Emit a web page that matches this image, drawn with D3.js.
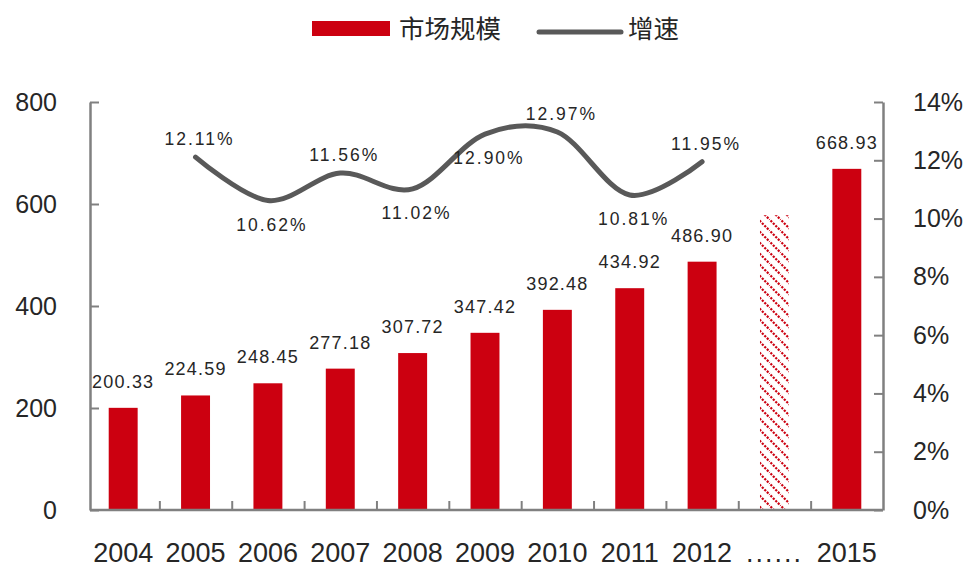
<!DOCTYPE html>
<html>
<head>
<meta charset="utf-8">
<script src="https://cdn.jsdelivr.net/npm/d3@7/dist/d3.min.js"></script>
<style>
  html, body { margin: 0; padding: 0; background: #fff; }
  svg { display: block; }
  text { font-family: "Liberation Sans", Arial, sans-serif; fill: #262626; }
  .cjk { font-family: "Noto Sans CJK SC", sans-serif; }
</style>
</head>
<body>
<svg id="chart" width="970" height="567"></svg>
<script>
// Market size (bars, left axis) and year-on-year growth (line, right axis)
const categories = ['2004', '2005', '2006', '2007', '2008', '2009', '2010', '2011', '2012', '......', '2015'];
const marketSize = [200.33, 224.59, 248.45, 277.18, 307.72, 347.42, 392.48, 434.92, 486.90, 578, 668.93];
const estimatedCategories = ['......'];
const growthRate = [null, 12.11, 10.62, 11.56, 11.02, 12.90, 12.97, 10.81, 11.95, null, null];
const growthLabelSide = [null, 'above', 'below', 'above', 'below', 'below', 'above', 'below', 'above', null, null];
const leftTicks = [0, 200, 400, 600, 800];
const rightTicks = [0, 2, 4, 6, 8, 10, 12, 14];
const seriesNames = ['市场规模', '增速'];

const RED = '#cc0010';
const LINE = '#595959';
const AXIS = '#808080';

const svg = d3.select('#chart');
const plot = { left: 90, right: 883, top: 102, bottom: 510 };
const bandStart = 87;

// Hatched fill for the estimated bar
const defs = svg.append('defs');
const pat = defs.append('pattern')
  .attr('id', 'hatch')
  .attr('patternUnits', 'userSpaceOnUse')
  .attr('width', 11).attr('height', 11);
pat.append('rect').attr('width', 11).attr('height', 11).attr('fill', '#fff');
pat.append('path')
  .attr('d', 'M-2,-2 L13,13 M-2,9 L2,13 M9,-2 L13,2')
  .attr('stroke', RED).attr('stroke-width', 2.2)
  .attr('stroke-dasharray', '2.2,1.3');

const x = d3.scaleBand()
  .domain(categories)
  .range([bandStart, plot.right])
  .paddingInner(0.6)
  .paddingOuter(0.3);

const xIndex = d3.scaleLinear()
  .domain([0, categories.length])
  .range([bandStart, plot.right]);

const yLeft = d3.scaleLinear().domain([0, 800]).range([plot.bottom, plot.top]);
const yRight = d3.scaleLinear().domain([0, 14]).range([plot.bottom, plot.top]);

// Bars
svg.append('g').selectAll('rect')
  .data(categories.map((c, i) => ({ c, v: marketSize[i] })))
  .join('rect')
  .attr('x', d => x(d.c))
  .attr('width', x.bandwidth())
  .attr('y', d => yLeft(d.v))
  .attr('height', d => yLeft(0) - yLeft(d.v))
  .attr('fill', d => estimatedCategories.includes(d.c) ? 'url(#hatch)' : RED);

// Bar value labels
svg.append('g').selectAll('text')
  .data(categories.map((c, i) => ({ c, v: marketSize[i] })).filter(d => !estimatedCategories.includes(d.c)))
  .join('text')
  .attr('x', d => x(d.c) + x.bandwidth() / 2)
  .attr('y', d => yLeft(d.v) - 20)
  .attr('text-anchor', 'middle')
  .attr('font-size', 18)
  .attr('letter-spacing', 1.2)
  .text(d => d.v.toFixed(2));

// Axes
const axisStyle = g => {
  g.selectAll('.domain').attr('stroke', AXIS).attr('stroke-width', 2.5);
  g.selectAll('.tick line').attr('stroke', AXIS).attr('stroke-width', 2);
  g.selectAll('.tick text').attr('fill', '#262626');
};

svg.append('g')
  .attr('transform', `translate(${plot.left},0)`)
  .call(d3.axisLeft(yLeft).tickValues(leftTicks).tickSizeInner(-9).tickSizeOuter(0).tickPadding(33))
  .call(axisStyle)
  .call(g => g.selectAll('.tick text')
    .attr('font-size', 25)
    .attr('font-family', '"Liberation Sans", Arial, sans-serif'));

svg.append('g')
  .attr('transform', `translate(${plot.right},0)`)
  .call(d3.axisRight(yRight).tickValues(rightTicks).tickSizeInner(-9).tickSizeOuter(0).tickPadding(30)
    .tickFormat(d => d + '%'))
  .call(axisStyle)
  .call(g => g.selectAll('.tick text')
    .attr('font-size', 25)
    .attr('font-family', '"Liberation Sans", Arial, sans-serif'));

// Category axis: baseline plus separators between categories
svg.append('line')
  .attr('x1', plot.left).attr('x2', plot.right)
  .attr('y1', plot.bottom).attr('y2', plot.bottom)
  .attr('stroke', AXIS).attr('stroke-width', 2.5);

svg.append('g')
  .attr('transform', `translate(0,${plot.bottom})`)
  .call(d3.axisBottom(xIndex).tickValues(d3.range(1, categories.length)).tickSizeInner(-9).tickSizeOuter(0).tickFormat(''))
  .call(axisStyle)
  .call(g => g.select('.domain').remove());

svg.append('g')
  .attr('transform', `translate(0,${plot.bottom})`)
  .call(d3.axisBottom(x).tickSize(0).tickPadding(33))
  .call(g => g.select('.domain').remove())
  .call(g => g.selectAll('.tick text')
    .attr('font-size', 27)
    .attr('font-family', '"Liberation Sans", Arial, sans-serif')
    .attr('fill', '#262626')
    .attr('letter-spacing', d => estimatedCategories.includes(d) ? 2 : 0));

// Growth line
const growthPoints = categories
  .map((c, i) => ({ c, v: growthRate[i], side: growthLabelSide[i] }))
  .filter(d => d.v !== null);
const cx = d => x(d.c) + x.bandwidth() / 2;

svg.append('path')
  .datum(growthPoints)
  .attr('fill', 'none')
  .attr('stroke', LINE)
  .attr('stroke-width', 5)
  .attr('stroke-linecap', 'round')
  .attr('d', d3.line().x(cx).y(d => yRight(d.v)).curve(d3.curveCardinal.tension(0)));

svg.append('g').selectAll('text')
  .data(growthPoints)
  .join('text')
  .attr('x', d => cx(d) + 4)
  .attr('y', d => yRight(d.v) + (d.side === 'above' ? -12 : 30))
  .attr('text-anchor', 'middle')
  .attr('font-size', 17.5)
  .attr('letter-spacing', 2)
  .text(d => d.v.toFixed(2) + '%');

// Legend
const legend = svg.append('g');
legend.append('rect')
  .attr('x', 312).attr('y', 21).attr('width', 78).attr('height', 15)
  .attr('fill', RED);
legend.append('text')
  .attr('class', 'cjk')
  .attr('x', 399).attr('y', 38)
  .attr('font-size', 25.5)
  .text(seriesNames[0]);
legend.append('line')
  .attr('x1', 539).attr('x2', 621).attr('y1', 32).attr('y2', 32)
  .attr('stroke', LINE).attr('stroke-width', 5).attr('stroke-linecap', 'round');
legend.append('text')
  .attr('class', 'cjk')
  .attr('x', 628).attr('y', 38)
  .attr('font-size', 25.5)
  .text(seriesNames[1]);
</script>
</body>
</html>
